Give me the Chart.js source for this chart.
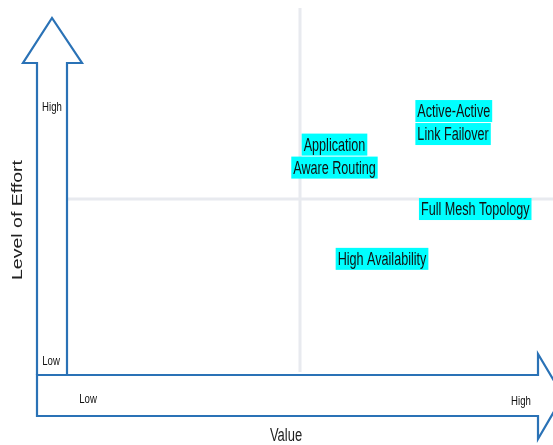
<!DOCTYPE html>
<html>
<head>
<meta charset="utf-8">
<script src="https://cdn.jsdelivr.net/npm/chart.js@4/dist/chart.umd.min.js"></script>
<style>
  html, body { margin: 0; padding: 0; background: #fff; }
  #wrap { width: 553px; height: 445px; }
</style>
</head>
<body>
<div id="wrap"><canvas id="matrix" width="553" height="445"></canvas></div>
<script>
// 各施策（ラベル行）
const initiatives = [
  ['Application', 'Aware Routing'],
  ['Active-Active', 'Link Failover'],
  ['Full Mesh Topology'],
  ['High Availability']
];
// 価値（横軸 0〜10）
const valueScores = [5.74, 8.30, 8.76, 6.76];
// 工数（縦軸 0〜10）
const effortScores = [6.24, 7.21, 4.71, 3.27];
// 軸ラベル
const xTickLabels = ['Low', 'High'];
const yTickLabels = ['Low', 'High'];
const xTitle = 'Value';
const yTitle = 'Level of Effort';

const FONT = "'Liberation Sans', Arial, sans-serif";

// 横に詰めた文字を描く
function squishText(ctx, text, x, y, size, sq, align, color) {
  ctx.save();
  ctx.font = size + 'px ' + FONT;
  ctx.fillStyle = color || '#111';
  ctx.textBaseline = 'middle';
  ctx.textAlign = align || 'center';
  ctx.translate(x, y);
  ctx.scale(sq, 1);
  ctx.fillText(text, 0, 0);
  ctx.restore();
}

function textWidth(ctx, text, size, sq) {
  ctx.save();
  ctx.font = size + 'px ' + FONT;
  const w = ctx.measureText(text).width * sq;
  ctx.restore();
  return w;
}

const matrixPlugin = {
  id: 'matrix',
  afterDraw(chart) {
    const ctx = chart.ctx;
    const xs = chart.scales.x, ys = chart.scales.y;
    const midX = xs.getPixelForValue(5);
    const midY = ys.getPixelForValue(5);

    // 十字の補助線
    ctx.save();
    ctx.strokeStyle = '#e8eaef';
    ctx.lineWidth = 3;
    ctx.beginPath();
    ctx.moveTo(midX, 8);
    ctx.lineTo(midX, 372);
    ctx.moveTo(67, midY);
    ctx.lineTo(553, midY);
    ctx.stroke();
    ctx.restore();

    // 矢印
    ctx.save();
    ctx.strokeStyle = '#2a72b6';
    ctx.lineWidth = 2.2;
    ctx.lineJoin = 'miter';
    ctx.fillStyle = '#fff';
    // 縦
    ctx.beginPath();
    ctx.moveTo(37, 375);
    ctx.lineTo(37, 63);
    ctx.lineTo(23, 63);
    ctx.lineTo(52, 18);
    ctx.lineTo(82, 63);
    ctx.lineTo(67, 63);
    ctx.lineTo(67, 375);
    ctx.fill();
    ctx.stroke();
    // 横
    ctx.beginPath();
    ctx.moveTo(37, 375);
    ctx.lineTo(538, 375);
    ctx.lineTo(538, 354);
    ctx.lineTo(563, 396);
    ctx.lineTo(538, 439);
    ctx.lineTo(538, 416);
    ctx.lineTo(37, 416);
    ctx.closePath();
    ctx.fill();
    ctx.stroke();
    ctx.restore();

    // Low / High
    squishText(ctx, yTickLabels[1], 52, 107, 13, 0.74);
    squishText(ctx, yTickLabels[0], 51, 361, 13, 0.74);
    squishText(ctx, xTickLabels[0], 88, 399, 13, 0.74);
    squishText(ctx, xTickLabels[1], 521, 401, 13, 0.74);

    // 軸タイトル
    squishText(ctx, xTitle, 286, 436, 18, 0.72, 'center', '#222');
    ctx.save();
    ctx.translate(18, 220);
    ctx.rotate(-Math.PI / 2);
    ctx.scale(1, 0.72);
    ctx.font = '19.5px ' + FONT;
    ctx.fillStyle = '#222';
    ctx.textAlign = 'center';
    ctx.textBaseline = 'middle';
    ctx.fillText(yTitle, 0, 0);
    ctx.restore();

    // 施策ラベル（シアン背景）
    const size = 18, sq = 0.7, pitch = 23, boxH = 22;
    initiatives.forEach((lines, i) => {
      const cx = xs.getPixelForValue(valueScores[i]);
      const cy = ys.getPixelForValue(effortScores[i]);
      const widths = lines.map(t => textWidth(ctx, t, size, sq));
      const maxW = Math.max(...widths);
      const leftAlign = i === 1;
      const top = cy - (lines.length * pitch - 1) / 2;
      lines.forEach((t, j) => {
        const w = widths[j];
        const ly = top + j * pitch + boxH / 2;
        const lx = leftAlign ? cx - maxW / 2 : cx - w / 2;
        ctx.fillStyle = '#00ffff';
        ctx.fillRect(lx - 2, ly - boxH / 2, w + 4, boxH);
        squishText(ctx, t, lx, ly + 1, size, sq, 'left', '#111');
      });
    });
  }
};

new Chart(document.getElementById('matrix'), {
  type: 'scatter',
  data: {
    datasets: [{
      label: 'initiatives',
      data: valueScores.map((v, i) => ({ x: v, y: effortScores[i] })),
      pointRadius: 0,
      pointHoverRadius: 0
    }]
  },
  options: {
    responsive: false,
    animation: false,
    layout: { padding: { left: 67, right: 20, top: 26, bottom: 73 } },
    plugins: { legend: { display: false }, tooltip: { enabled: false } },
    scales: {
      x: { type: 'linear', min: 0, max: 10, display: false },
      y: { type: 'linear', min: 0, max: 10, display: false }
    }
  },
  plugins: [matrixPlugin]
});
</script>
</body>
</html>
